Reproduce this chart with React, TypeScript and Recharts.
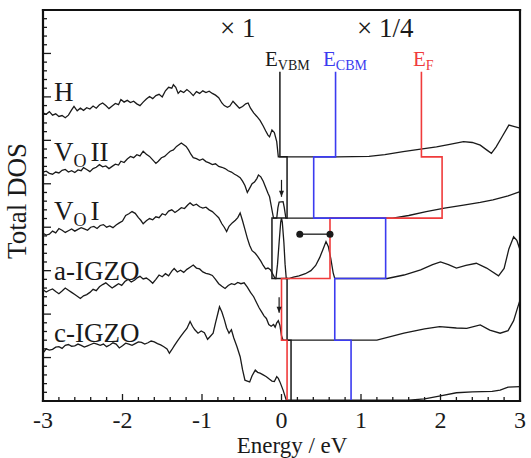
import React from "react";
import { ComposedChart, Line, XAxis, YAxis } from "recharts";

// Energy (eV) / DOS (arb. units, offset curves) pairs
const hCurve: number[][] = [
  [-3.0, 6.63], [-2.96, 6.6], [-2.92, 6.66], [-2.88, 6.58], [-2.84, 6.61], [-2.8, 6.55], [-2.76, 6.57], [-2.72, 6.52],
  [-2.68, 6.58], [-2.64, 6.7], [-2.61, 6.78], [-2.57, 6.68], [-2.53, 6.74], [-2.49, 6.69], [-2.45, 6.75], [-2.41, 6.72],
  [-2.37, 6.79], [-2.33, 6.74], [-2.29, 6.82], [-2.25, 6.86], [-2.21, 6.8], [-2.17, 6.73], [-2.13, 6.79], [-2.09, 6.85],
  [-2.05, 6.82], [-2.02, 6.94], [-1.98, 6.88], [-1.94, 6.92], [-1.9, 6.87], [-1.86, 6.9], [-1.82, 6.84], [-1.78, 6.8],
  [-1.74, 6.88], [-1.7, 6.95], [-1.66, 7.01], [-1.62, 6.96], [-1.58, 7.03], [-1.54, 7.06], [-1.5, 7.0], [-1.46, 7.14],
  [-1.42, 7.22], [-1.38, 7.2], [-1.36, 7.28], [-1.33, 7.22], [-1.3, 7.08], [-1.27, 7.14], [-1.23, 7.1], [-1.19, 7.17],
  [-1.15, 7.11], [-1.11, 7.03], [-1.07, 7.12], [-1.03, 7.08], [-0.99, 7.14], [-0.95, 7.1], [-0.91, 7.13], [-0.87, 7.08],
  [-0.83, 7.04], [-0.79, 6.98], [-0.75, 6.86], [-0.72, 6.8], [-0.68, 6.76], [-0.65, 6.79], [-0.61, 6.9], [-0.57, 6.82],
  [-0.53, 6.74], [-0.49, 6.78], [-0.45, 6.84], [-0.42, 6.86], [-0.39, 6.74], [-0.35, 6.63], [-0.31, 6.55], [-0.27, 6.46],
  [-0.23, 6.33], [-0.2, 6.22], [-0.17, 6.12], [-0.15, 6.08], [-0.12, 6.24], [-0.09, 6.18], [-0.06, 5.97], [-0.04, 5.62],
  [0.0, 5.62], [0.7, 5.62], [1.1, 5.63], [1.3, 5.67], [1.53, 5.74], [1.75, 5.8], [1.95, 5.85], [2.1, 5.9], [2.29, 5.97],
  [2.4, 5.95], [2.5, 5.89], [2.58, 5.78], [2.64, 5.7], [2.7, 5.85], [2.78, 6.1], [2.86, 6.35], [2.92, 6.32], [3.0, 6.28],
];

const vo2Curve: number[][] = [
  [-3.0, 5.27], [-2.96, 5.29], [-2.92, 5.24], [-2.88, 5.22], [-2.84, 5.27], [-2.8, 5.25], [-2.76, 5.31], [-2.72, 5.33],
  [-2.68, 5.27], [-2.64, 5.3], [-2.6, 5.26], [-2.56, 5.32], [-2.52, 5.3], [-2.49, 5.37], [-2.45, 5.33], [-2.41, 5.28],
  [-2.37, 5.35], [-2.33, 5.38], [-2.29, 5.44], [-2.25, 5.39], [-2.21, 5.41], [-2.17, 5.35], [-2.13, 5.4], [-2.09, 5.45],
  [-2.05, 5.43], [-2.02, 5.52], [-1.98, 5.49], [-1.94, 5.57], [-1.9, 5.63], [-1.86, 5.6], [-1.82, 5.67], [-1.78, 5.64],
  [-1.74, 5.75], [-1.7, 5.68], [-1.66, 5.63], [-1.62, 5.55], [-1.58, 5.47], [-1.55, 5.52], [-1.51, 5.6], [-1.47, 5.63],
  [-1.43, 5.7], [-1.4, 5.75], [-1.36, 5.78], [-1.32, 5.86], [-1.29, 5.9], [-1.26, 5.94], [-1.23, 5.9], [-1.2, 5.86],
  [-1.17, 5.78], [-1.14, 5.68], [-1.11, 5.6], [-1.07, 5.58], [-1.03, 5.54], [-0.99, 5.57], [-0.95, 5.51], [-0.91, 5.48],
  [-0.87, 5.44], [-0.83, 5.46], [-0.79, 5.4], [-0.75, 5.38], [-0.71, 5.35], [-0.67, 5.3], [-0.63, 5.27], [-0.59, 5.22],
  [-0.56, 5.19], [-0.52, 5.14], [-0.49, 5.06], [-0.46, 4.96], [-0.43, 4.8], [-0.4, 4.9], [-0.37, 5.0], [-0.34, 5.04],
  [-0.31, 5.12], [-0.29, 5.2], [-0.26, 5.16], [-0.23, 5.06], [-0.2, 4.92], [-0.17, 4.78], [-0.15, 4.7], [-0.13, 4.5],
  [-0.11, 4.3], [-0.1, 4.21], [-0.06, 4.21], [-0.045, 4.45], [-0.03, 4.58], [0.02, 4.59], [0.035, 4.45], [0.055, 4.21],
  [1.4, 4.21], [1.6, 4.27], [1.82, 4.36], [2.05, 4.44], [2.29, 4.51], [2.5, 4.57], [2.66, 4.63], [2.85, 4.72], [3.0, 4.82],
];

const vo1Curve: number[][] = [
  [-3.0, 3.86], [-2.96, 3.82], [-2.92, 3.84], [-2.88, 3.91], [-2.84, 3.87], [-2.8, 3.97], [-2.76, 3.93], [-2.72, 3.88],
  [-2.68, 3.92], [-2.64, 3.96], [-2.6, 3.91], [-2.56, 3.95], [-2.52, 3.99], [-2.48, 3.96], [-2.44, 3.93], [-2.4, 4.0],
  [-2.36, 4.02], [-2.32, 3.97], [-2.28, 4.04], [-2.24, 4.06], [-2.2, 4.0], [-2.16, 4.03], [-2.12, 3.99], [-2.08, 4.05],
  [-2.04, 4.1], [-2.0, 4.14], [-1.96, 4.27], [-1.92, 4.31], [-1.88, 4.36], [-1.84, 4.32], [-1.8, 4.22], [-1.77, 4.16],
  [-1.74, 4.08], [-1.7, 4.15], [-1.66, 4.2], [-1.62, 4.17], [-1.58, 4.24], [-1.54, 4.22], [-1.5, 4.31], [-1.46, 4.28],
  [-1.42, 4.37], [-1.38, 4.4], [-1.34, 4.34], [-1.3, 4.39], [-1.26, 4.45], [-1.22, 4.43], [-1.18, 4.51], [-1.15, 4.56],
  [-1.11, 4.5], [-1.07, 4.53], [-1.03, 4.47], [-0.99, 4.44], [-0.95, 4.46], [-0.91, 4.4], [-0.87, 4.36], [-0.83, 4.29],
  [-0.79, 4.22], [-0.75, 4.08], [-0.72, 4.0], [-0.69, 3.9], [-0.66, 4.02], [-0.62, 4.1], [-0.58, 4.16], [-0.55, 4.22],
  [-0.52, 4.33], [-0.49, 4.15], [-0.46, 3.95], [-0.43, 3.75], [-0.4, 3.58], [-0.37, 3.46], [-0.33, 3.4], [-0.3, 3.33],
  [-0.26, 3.22], [-0.23, 3.12], [-0.2, 3.04], [-0.17, 3.06], [-0.14, 3.02], [-0.11, 2.92], [-0.08, 2.82], [-0.07, 2.82],
  [-0.05, 3.15], [-0.03, 3.65], [-0.01, 4.12], [0.0, 4.21], [0.01, 4.12], [0.03, 3.65], [0.045, 3.15], [0.06, 2.82],
  [0.1, 2.82], [0.15, 2.85], [0.22, 2.88], [0.3, 2.93], [0.37, 3.0], [0.43, 3.12], [0.48, 3.3], [0.52, 3.48], [0.56, 3.67],
  [0.59, 3.55], [0.62, 3.28], [0.65, 2.95], [0.67, 2.82], [1.33, 2.82], [1.54, 2.9], [1.75, 3.02], [1.9, 3.14], [2.0, 3.2],
  [2.1, 3.14], [2.2, 3.06], [2.32, 3.12], [2.45, 3.17], [2.58, 3.06], [2.73, 2.88], [2.8, 3.05], [2.86, 3.5], [2.92, 3.78],
  [2.96, 3.7], [3.0, 3.48],
];

const aIgzoCurve: number[][] = [
  [-3.0, 2.56], [-2.96, 2.51], [-2.92, 2.55], [-2.88, 2.58], [-2.84, 2.52], [-2.8, 2.47], [-2.76, 2.53], [-2.72, 2.6],
  [-2.68, 2.55], [-2.64, 2.5], [-2.6, 2.45], [-2.56, 2.4], [-2.53, 2.36], [-2.49, 2.42], [-2.45, 2.45], [-2.41, 2.5],
  [-2.37, 2.57], [-2.33, 2.54], [-2.29, 2.63], [-2.25, 2.68], [-2.21, 2.72], [-2.17, 2.66], [-2.13, 2.6], [-2.09, 2.65],
  [-2.05, 2.7], [-2.01, 2.66], [-1.97, 2.75], [-1.93, 2.8], [-1.89, 2.74], [-1.85, 2.78], [-1.81, 2.84], [-1.78, 2.87],
  [-1.74, 2.81], [-1.7, 2.83], [-1.66, 2.78], [-1.62, 2.71], [-1.58, 2.8], [-1.54, 2.9], [-1.5, 2.86], [-1.46, 2.93],
  [-1.42, 2.88], [-1.38, 2.99], [-1.35, 3.05], [-1.31, 2.97], [-1.27, 3.01], [-1.23, 2.96], [-1.19, 3.03], [-1.15, 3.08],
  [-1.11, 3.13], [-1.07, 3.06], [-1.03, 3.04], [-0.99, 2.97], [-0.95, 2.94], [-0.91, 2.92], [-0.87, 2.89], [-0.83, 2.8],
  [-0.79, 2.7], [-0.75, 2.64], [-0.71, 2.59], [-0.67, 2.66], [-0.63, 2.7], [-0.59, 2.68], [-0.55, 2.73], [-0.51, 2.7],
  [-0.47, 2.72], [-0.43, 2.62], [-0.39, 2.5], [-0.35, 2.4], [-0.31, 2.25], [-0.28, 2.14], [-0.25, 2.05], [-0.22, 1.96],
  [-0.19, 1.9], [-0.16, 1.76], [-0.13, 1.72], [-0.1, 1.76], [-0.08, 1.7], [-0.06, 1.8], [-0.04, 1.85], [-0.02, 1.74],
  [0.0, 1.5], [0.02, 1.4], [1.2, 1.4], [1.54, 1.56], [1.8, 1.66], [1.99, 1.71], [2.2, 1.68], [2.33, 1.67], [2.5, 1.75],
  [2.62, 1.63], [2.75, 1.56], [2.85, 1.62], [2.92, 1.85], [2.97, 2.15], [3.0, 2.32],
];

const cIgzoCurve: number[][] = [
  [-3.0, 1.1], [-2.96, 1.2], [-2.92, 1.17], [-2.88, 1.19], [-2.84, 1.24], [-2.8, 1.25], [-2.76, 1.21], [-2.72, 1.28],
  [-2.68, 1.3], [-2.64, 1.26], [-2.6, 1.27], [-2.56, 1.31], [-2.52, 1.28], [-2.48, 1.24], [-2.44, 1.27], [-2.4, 1.3],
  [-2.36, 1.33], [-2.32, 1.31], [-2.28, 1.28], [-2.24, 1.31], [-2.2, 1.25], [-2.16, 1.29], [-2.12, 1.34], [-2.08, 1.31],
  [-2.04, 1.22], [-2.0, 1.27], [-1.96, 1.33], [-1.92, 1.31], [-1.88, 1.28], [-1.84, 1.32], [-1.8, 1.36], [-1.76, 1.35],
  [-1.72, 1.31], [-1.68, 1.34], [-1.64, 1.38], [-1.6, 1.36], [-1.56, 1.32], [-1.52, 1.29], [-1.48, 1.25], [-1.44, 1.2],
  [-1.41, 1.1], [-1.38, 1.18], [-1.35, 1.27], [-1.31, 1.38], [-1.27, 1.48], [-1.23, 1.58], [-1.19, 1.67], [-1.15, 1.83],
  [-1.12, 1.72], [-1.09, 1.64], [-1.05, 1.56], [-1.01, 1.61], [-0.97, 1.57], [-0.93, 1.42], [-0.9, 1.48], [-0.86, 1.56],
  [-0.83, 1.8], [-0.8, 2.02], [-0.78, 2.17], [-0.75, 2.05], [-0.72, 1.88], [-0.69, 1.68], [-0.66, 1.56], [-0.63, 1.64],
  [-0.6, 1.45], [-0.56, 1.25], [-0.52, 1.02], [-0.49, 0.72], [-0.46, 0.48], [-0.43, 0.46], [-0.4, 0.44], [-0.37, 0.58],
  [-0.33, 0.71], [-0.3, 0.66], [-0.27, 0.64], [-0.23, 0.6], [-0.19, 0.56], [-0.15, 0.5], [-0.12, 0.46], [-0.09, 0.45],
  [-0.06, 0.56], [-0.04, 0.52], [-0.02, 0.44], [0.02, 0.25], [0.06, 0.02], [1.6, 0.02], [1.8, 0.05], [2.0, 0.12],
  [2.2, 0.19], [2.4, 0.21], [2.65, 0.22], [2.75, 0.25], [2.85, 0.32], [3.0, 0.33],
];

// band-edge / Fermi-level marker paths
const vbmPath: number[][] = [
  [-0.02, 7.58], [-0.02, 5.62], [0.07, 5.62], [0.07, 4.21], [-0.12, 4.21], [-0.12, 2.82], [0.07, 2.82], [0.07, 1.4],
  [0.12, 1.4], [0.12, 0],
];
const cbmPath: number[][] = [
  [0.68, 7.58], [0.68, 5.62], [0.405, 5.62], [0.405, 4.21], [1.31, 4.21], [1.31, 2.82], [0.67, 2.82], [0.67, 1.4],
  [0.875, 1.4], [0.875, 0],
];
const efPath: number[][] = [
  [1.76, 7.58], [1.76, 5.62], [2.02, 5.62], [2.02, 4.21], [0.61, 4.21], [0.61, 2.82], [0.0, 2.82], [0.0, 1.4],
  [0.07, 1.4], [0.07, 0],
];
const dumbbell: number[][] = [[0.23, 3.84], [0.61, 3.84]];
const arrowVo2: number[][] = [[0.0, 5.09], [0.0, 4.7]];
const arrowAigzo: number[][] = [[-0.03, 2.39], [-0.03, 2.03]];

const xMajorLabels = [-3, -2, -1, 0, 1, 2, 3];
const xTicks: number[] = [];
for (let i = -15; i <= 15; i++) xTicks.push(Math.round(i * 2) / 10);
const yTicks: number[] = [];
for (let i = 0; i <= 45; i++) yTicks.push(Math.round(i * 2) / 10);

const FONT = "'Liberation Serif', 'Times New Roman', serif";
const BLUE = "#3b3bf0";
const RED = "#f03b3b";
const INK = "#1a1a1a";

// chart geometry
const W = 531;
const H = 458;
const M = { top: 10, right: 11, bottom: 57, left: 43 };
const L = M.left;
const R = W - M.right;
const T = M.top;
const B = H - M.bottom;

const toPts = (a: number[][]) => a.map(([e, v]) => ({ e, v }));

const isMajor = (v: number) => Math.abs(v - Math.round(v)) < 1e-6;

const XTick = (props: any) => {
  const { x, y, payload } = props;
  const major = isMajor(payload.value);
  return (
    <g>
      <line x1={x} x2={x} y1={y} y2={y - (major ? 7 : 4)} stroke={INK} strokeWidth={1.3} />
      {major && xMajorLabels.includes(Math.round(payload.value)) && (
        <text x={x} y={y + 27} textAnchor="middle" fontSize={24} fontFamily={FONT} fill={INK}>
          {Math.round(payload.value)}
        </text>
      )}
    </g>
  );
};

const YTick = (props: any) => {
  const { x, y, payload } = props;
  const major = isMajor(payload.value);
  return <line x1={x} x2={x + (major ? 8 : 4)} y1={y} y2={y} stroke={INK} strokeWidth={1.3} />;
};

const ArrowDot = (props: any) => {
  const { cx, cy, index } = props;
  if (index !== 1) return <g key={`a${index}`} />;
  return <path key={`a${index}`} d={`M${cx - 2.5},${cy - 6} L${cx + 2.5},${cy - 6} L${cx},${cy} Z`} fill={INK} />;
};

export default function App() {
  return (
    <div style={{ position: "absolute", left: 0, top: 0, width: W, height: H, background: "#fff", overflow: "hidden" }}>
      <ComposedChart width={W} height={H} margin={{ top: M.top, right: M.right, bottom: 0, left: 0 }}>
        <XAxis
          type="number"
          dataKey="e"
          domain={[-3, 3]}
          ticks={xTicks}
          interval={0}
          axisLine={false}
          tickLine={false}
          tickSize={0}
          tickMargin={0}
          height={M.bottom}
          tick={<XTick />}
        />
        <YAxis
          type="number"
          dataKey="v"
          domain={[0, 9]}
          ticks={yTicks}
          interval={0}
          axisLine={false}
          tickLine={false}
          tickSize={0}
          tickMargin={0}
          width={M.left}
          tick={<YTick />}
        />
        {[hCurve, vo2Curve, vo1Curve, aIgzoCurve, cIgzoCurve].map((c, i) => (
          <Line
            key={`c${i}`}
            data={toPts(c)}
            dataKey="v"
            type="linear"
            stroke={INK}
            strokeWidth={1.3}
            dot={false}
            isAnimationActive={false}
          />
        ))}
        <Line data={toPts(vbmPath)} dataKey="v" type="linear" stroke={INK} strokeWidth={1.5} dot={false} isAnimationActive={false} />
        <Line data={toPts(efPath)} dataKey="v" type="linear" stroke={RED} strokeWidth={1.6} dot={false} isAnimationActive={false} />
        <Line data={toPts(cbmPath)} dataKey="v" type="linear" stroke={BLUE} strokeWidth={1.6} dot={false} isAnimationActive={false} />
        <Line
          data={toPts(dumbbell)}
          dataKey="v"
          type="linear"
          stroke={INK}
          strokeWidth={1.3}
          dot={{ r: 3.5, fill: INK, stroke: INK, strokeWidth: 0 }}
          isAnimationActive={false}
        />
        <Line data={toPts(arrowVo2)} dataKey="v" type="linear" stroke={INK} strokeWidth={1.2} dot={<ArrowDot />} isAnimationActive={false} />
        <Line data={toPts(arrowAigzo)} dataKey="v" type="linear" stroke={INK} strokeWidth={1.2} dot={<ArrowDot />} isAnimationActive={false} />
      </ComposedChart>
      <svg
        width={W}
        height={H}
        style={{ position: "absolute", left: 0, top: 0, pointerEvents: "none" }}
        fontFamily={FONT}
      >
        <g stroke="#111" strokeWidth={2.2} strokeLinecap="square">
          <line x1={L} y1={T} x2={R} y2={T} />
          <line x1={R} y1={T} x2={R} y2={B} />
          <line x1={L} y1={B} x2={R} y2={B} />
          <line x1={L} y1={T} x2={L} y2={B} />
        </g>
        <text x={220} y={37} fontSize={27} fill={INK}>× 1</text>
        <text x={357} y={37} fontSize={27} fill={INK}>× 1/4</text>
        <text x={265} y={66} fontSize={21} fill={INK}>
          E<tspan fontSize={14} dy={4}>VBM</tspan>
        </text>
        <text x={323} y={66} fontSize={21} fill={BLUE}>
          E<tspan fontSize={14} dy={4}>CBM</tspan>
        </text>
        <text x={413} y={66} fontSize={21} fill={RED}>
          E<tspan fontSize={14} dy={4}>F</tspan>
        </text>
        <text x={54} y={101} fontSize={27} fill={INK}>H</text>
        <text x={54} y={161} fontSize={27} fill={INK}>
          V<tspan fontSize={18} dy={6}>O</tspan><tspan dy={-6} dx={4}>II</tspan>
        </text>
        <text x={54} y={220} fontSize={27} fill={INK}>
          V<tspan fontSize={18} dy={6}>O</tspan><tspan dy={-6} dx={4}>I</tspan>
        </text>
        <text x={54} y={280} fontSize={27} fill={INK}>a-IGZO</text>
        <text x={54} y={342} fontSize={27} fill={INK}>c-IGZO</text>
        <text x={26} y={201} fontSize={27} fill={INK} textAnchor="middle" transform="rotate(-90, 26, 201)">
          Total DOS
        </text>
        <text x={292} y={453} fontSize={23} fill={INK} textAnchor="middle">Energy / eV</text>
      </svg>
    </div>
  );
}
